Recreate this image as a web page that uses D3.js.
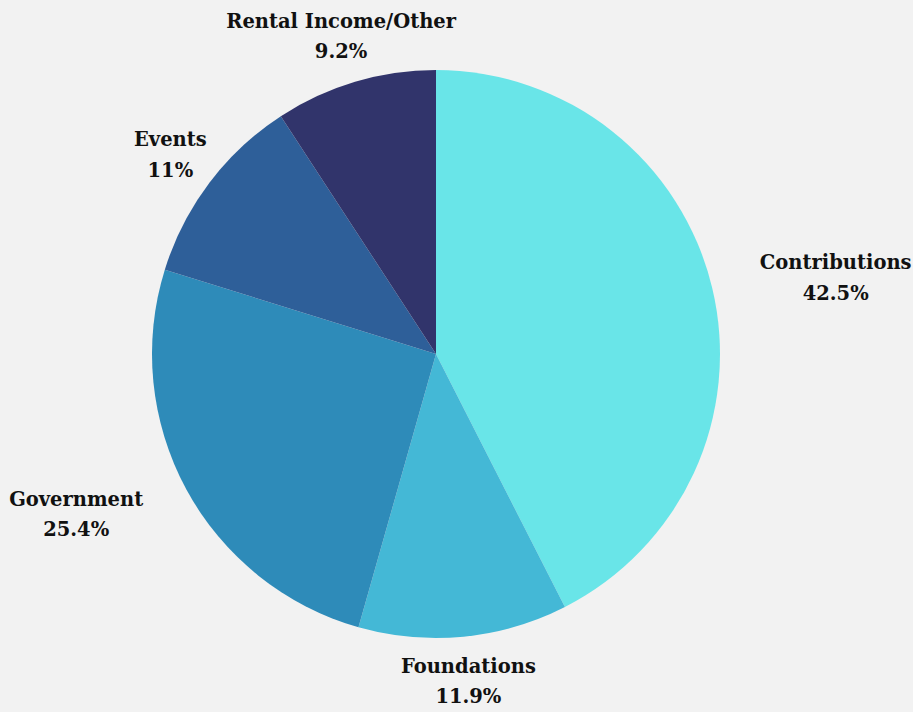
<!DOCTYPE html>
<html><head><meta charset="utf-8">
<script src="https://cdn.jsdelivr.net/npm/d3@7"></script>
<style>html,body{margin:0;padding:0;background:#f2f2f2;}</style>
</head><body>
<svg id="chart" width="913" height="712"></svg>
<script>
const categories = ["Contributions","Foundations","Government","Events","Rental Income/Other"];
const values = [42.5, 11.9, 25.4, 11, 9.2];
const valueLabels = ["42.5%","11.9%","25.4%","11%","9.2%"];
const colors = ["#69e5e8","#44b8d6","#2e8bb9","#2e5f99","#31346b"];

const svg = d3.select("#chart");
const W = 913, H = 712, cx = 436, cy = 354, r = 284, lr = 333;
svg.append("rect").attr("width",W).attr("height",H).attr("fill","#f2f2f2");
const data = categories.map((c,i)=>({cat:c,value:values[i],label:valueLabels[i],color:colors[i]}));
const pie = d3.pie().value(d=>d.value).sort(null);
const arc = d3.arc().innerRadius(0).outerRadius(r);
const g = svg.append("g").attr("transform",`translate(${cx},${cy})`);
const arcs = pie(data);
g.selectAll("path").data(arcs).join("path").attr("d",arc).attr("fill",d=>d.data.color);
const font = "'DejaVu Serif', serif";
arcs.forEach(a=>{
  const m = (a.startAngle+a.endAngle)/2;
  const px = lr*Math.sin(m);
  let py = -lr*Math.cos(m) - 2;
  py = Math.min(py, H - cy - 34);
  const t = g.append("text").attr("text-anchor","middle")
    .attr("font-family",font).attr("font-weight","bold").attr("font-size",19.5).attr("fill","#111");
  const s1 = t.append("tspan").attr("dy","-0.25em").text(a.data.cat);
  const s2 = t.append("tspan").attr("dy","1.55em").text(a.data.label);
  const w = Math.max(s1.node().getComputedTextLength(), s2.node().getComputedTextLength());
  let x = px;
  if (Math.abs(Math.cos(m)) < 0.5) x = Math.sin(m) > 0 ? px + w/2 : px - w/2;
  t.attr("y", py);
  s1.attr("x", x); s2.attr("x", x);
});
</script>
</body></html>
